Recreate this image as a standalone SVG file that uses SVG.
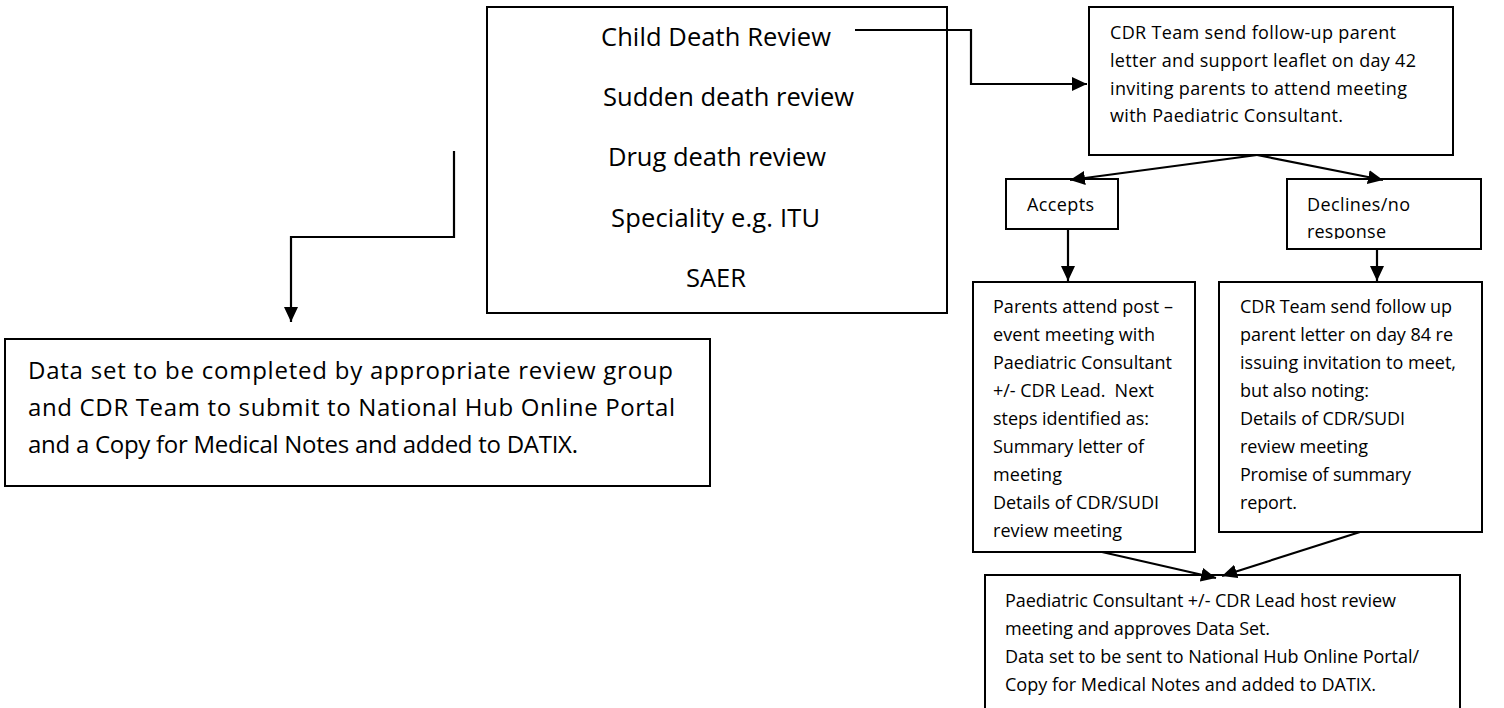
<svg xmlns="http://www.w3.org/2000/svg" width="1504" height="708" viewBox="0 0 1504 708">
<style>
.box{fill:#fff;stroke:#000;stroke-width:2}
.t{font-family:"Open Sans","Liberation Sans",sans-serif;fill:#000;white-space:pre}
.big{font-size:25.5px}
.mid{font-size:24px}
.sm{font-size:18px}
.c{fill:none;stroke:#000;stroke-width:2.2}
</style>
<defs>
<marker id="ah" markerUnits="userSpaceOnUse" markerWidth="16" markerHeight="15" refX="15" refY="7" orient="auto">
<path d="M0,0 L15,7 L0,14 z" fill="#000"/>
</marker>
<clipPath id="declClip"><rect x="1287" y="179" width="194" height="60"/></clipPath>
</defs>
<rect width="1504" height="708" fill="#fff"/>

<g id="review-types">
<rect class="box" x="487" y="7" width="460" height="306"/>
<text class="t big" x="601" y="46" textLength="230">Child Death Review</text>
<text class="t big" x="603" y="106" textLength="251">Sudden death review</text>
<text class="t big" x="608" y="166" textLength="218">Drug death review</text>
<text class="t big" x="611" y="227" textLength="209">Speciality e.g. ITU</text>
<text class="t big" x="686" y="287" textLength="60">SAER</text>
</g>

<g id="data-set">
<rect class="box" x="5" y="339" width="705" height="147"/>
<text class="t mid" x="28" y="379" textLength="645">Data set to be completed by appropriate review group</text>
<text class="t mid" x="28" y="416" textLength="647">and CDR Team to submit to National Hub Online Portal</text>
<text class="t mid" x="28" y="453" textLength="550">and a Copy for Medical Notes and added to DATIX.</text>
</g>

<g id="follow-up-letter">
<rect class="box" x="1089" y="7" width="364" height="148"/>
<text class="t sm" x="1110" y="38.5" textLength="286">CDR Team send follow-up parent</text>
<text class="t sm" x="1110" y="66.5" textLength="306">letter and support leaflet on day 42</text>
<text class="t sm" x="1110" y="94.5" textLength="297">inviting parents to attend meeting</text>
<text class="t sm" x="1110" y="122" textLength="233">with Paediatric Consultant.</text>
</g>

<g id="accepts">
<rect class="box" x="1006" y="179" width="112" height="50"/>
<text class="t sm" x="1027" y="211" textLength="67">Accepts</text>
</g>

<g id="declines">
<rect class="box" x="1287" y="179" width="194" height="70"/>
<g clip-path="url(#declClip)">
<text class="t sm" x="1307" y="211" textLength="103">Declines/no</text>
<text class="t sm" x="1307" y="238" textLength="79">response</text>
</g>
</g>

<g id="parents-attend">
<rect class="box" x="973" y="282" width="222" height="270"/>
<text class="t sm" x="993" y="313" textLength="180">Parents attend post –</text>
<text class="t sm" x="993" y="341" textLength="162">event meeting with</text>
<text class="t sm" x="993" y="369" textLength="179">Paediatric Consultant</text>
<text class="t sm" x="993" y="397" textLength="161">+/- CDR Lead.  Next</text>
<text class="t sm" x="993" y="425" textLength="156">steps identified as:</text>
<text class="t sm" x="993" y="453" textLength="151">Summary letter of</text>
<text class="t sm" x="993" y="481" textLength="69">meeting</text>
<text class="t sm" x="993" y="509" textLength="166">Details of CDR/SUDI</text>
<text class="t sm" x="993" y="537" textLength="129">review meeting</text>
</g>

<g id="follow-up-day84">
<rect class="box" x="1219" y="282" width="263" height="250"/>
<text class="t sm" x="1240" y="313" textLength="212">CDR Team send follow up</text>
<text class="t sm" x="1240" y="341" textLength="213">parent letter on day 84 re</text>
<text class="t sm" x="1240" y="369" textLength="216">issuing invitation to meet,</text>
<text class="t sm" x="1240" y="397" textLength="129">but also noting:</text>
<text class="t sm" x="1240" y="425" textLength="165">Details of CDR/SUDI</text>
<text class="t sm" x="1240" y="453" textLength="128">review meeting</text>
<text class="t sm" x="1240" y="481" textLength="171">Promise of summary</text>
<text class="t sm" x="1240" y="509" textLength="57">report.</text>
</g>

<g id="review-meeting">
<rect class="box" x="985" y="575" width="475" height="150"/>
<text class="t sm" x="1005" y="607" textLength="391">Paediatric Consultant +/- CDR Lead host review</text>
<text class="t sm" x="1005" y="635" textLength="265">meeting and approves Data Set.</text>
<text class="t sm" x="1005" y="663" textLength="414">Data set to be sent to National Hub Online Portal/</text>
<text class="t sm" x="1005" y="691" textLength="371">Copy for Medical Notes and added to DATIX.</text>
</g>

<g id="connectors">
<polyline class="c" points="855,30 971,30 971,84 1087,84" marker-end="url(#ah)"/>
<polyline class="c" points="454,151 454,237 291,237 291,322" marker-end="url(#ah)"/>
<line class="c" x1="1257" y1="155" x2="1070" y2="180" marker-end="url(#ah)"/>
<line class="c" x1="1257" y1="155" x2="1383" y2="180" marker-end="url(#ah)"/>
<line class="c" x1="1068" y1="229" x2="1068" y2="281" marker-end="url(#ah)"/>
<line class="c" x1="1377" y1="249" x2="1377" y2="281" marker-end="url(#ah)"/>
<line class="c" x1="1102" y1="552" x2="1216" y2="578" marker-end="url(#ah)"/>
<line class="c" x1="1360" y1="532" x2="1222" y2="576" marker-end="url(#ah)"/>
</g>
</svg>
